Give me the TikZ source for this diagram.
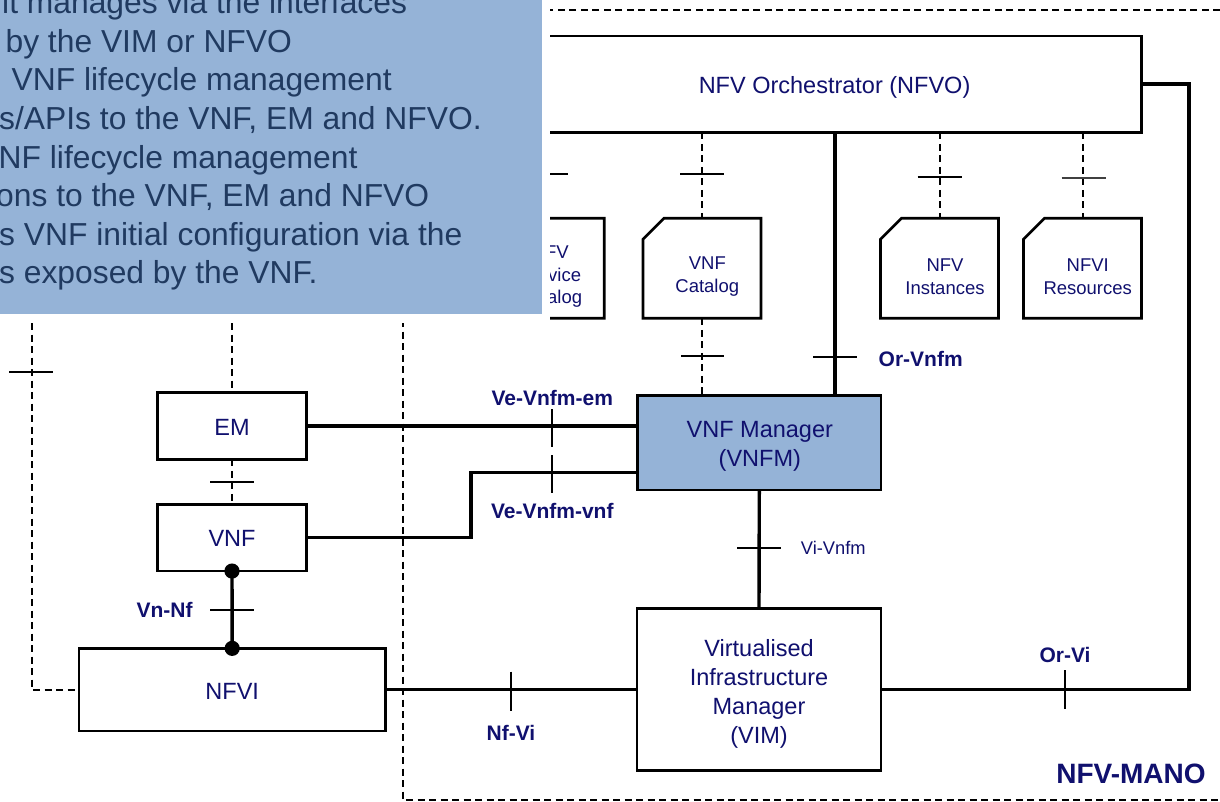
\documentclass[tikz,border=0pt]{standalone}
\usepackage{fontspec}
\setmainfont{Liberation Sans}
\definecolor{navy}{HTML}{10106E}
\definecolor{callblue}{HTML}{95B3D7}
\definecolor{calltext}{HTML}{203A60}
\tikzset{
  blk/.style={draw, line width=2.7pt, fill=white, inner sep=0pt, outer sep=0pt},
  blktext/.style={text=navy, align=center, inner sep=0pt, font=\fontsize{23.5}{29.2}\selectfont},
  catbox/.style={inner sep=0pt, outer sep=0pt, minimum width=118pt, minimum height=100pt},
  catshape/.style={line width=2.7pt, line join=miter},
  cattext/.style={text=navy, align=center, font=\fontsize{18.5}{22.7}\selectfont, inner sep=0pt},
  conn/.style={line width=3.4pt, line join=miter},
  dashc/.style={line width=2pt, dash pattern=on 7pt off 4.5pt},
  tickm/.style={line width=2pt},
  ifl/.style={text=navy, font=\bfseries\fontsize{21}{25}\selectfont, inner sep=0pt},
  calltxt/.style={text=calltext, font=\fontsize{31.8}{38}\selectfont, anchor=base west, inner sep=0pt},
}
\begin{document}
\begin{tikzpicture}[x=1pt,y=-1pt]
\useasboundingbox (0,0) rectangle (1220,802);

% NFV-MANO boundary
\coordinate (mtr) at (1220,10);
\coordinate (mbr) at (1220,800);
\draw[dashc] (mtr) -- (403,10) -- (403,800) -- (mbr);

% main blocks
\node[blk, minimum width=614.7pt, minimum height=96.3pt] (nfvo) at (834.35,84.15) {};
\node[blk, fill=callblue, minimum width=243.3pt, minimum height=94.3pt] (vnfm) at (759.3,442.9) {};
\node[blk, minimum width=244pt, minimum height=162.4pt] (vim) at (759,689.5) {};
\node[blk, minimum width=148.6pt, minimum height=67pt] (em) at (232,425.8) {};
\node[blk, minimum width=148.6pt, minimum height=66.7pt] (vnf) at (232,537.7) {};
\node[blk, minimum width=306.3pt, minimum height=82.7pt] (nfvi) at (232.2,689.7) {};

\node[blktext] (nfvot) at ([shift={(0.2,3)}]nfvo.center) {NFV Orchestrator (NFVO)};
\node[blktext] (vnfmt) at ([shift={(0.5,3.6)}]vnfm.center) {VNF Manager\\(VNFM)};
\node[blktext] (vimt) at ([shift={(0,4.5)}]vim.center) {Virtualised\\Infrastructure\\Manager\\(VIM)};
\node[blktext] (emt) at ([shift={(0,1.5)}]em.center) {EM};
\node[blktext] (vnft) at ([shift={(0,1)}]vnf.center) {VNF};
\node[blktext] (nfvit) at ([shift={(0,1.5)}]nfvi.center) {NFVI};

% catalogs / repositories
\node[catbox] (sc) at (545.3,268.3) {};
\node[catbox] (vnfc) at (702,268.3) {};
\node[catbox] (nfvin) at (939.5,268.3) {};
\node[catbox] (nfvir) at (1082.5,268.3) {};
\foreach \c in {sc,vnfc,nfvin,nfvir}{
  \draw[catshape] (\c.north west) ++(0,21) -- ++(21,-21) -- (\c.north east) -- (\c.south east) -- (\c.south west) -- cycle;
}
\node[cattext] (sct) at ([shift={(5,8.4)}]sc.center) {NFV\\Service\\Catalog};
\node[cattext] (vnfct) at ([shift={(5.3,8.4)}]vnfc.center) {VNF\\Catalog};
\node[cattext] (nfvint) at ([shift={(5.5,8.4)}]nfvin.center) {NFV\\Instances};
\node[cattext] (nfvirt) at ([shift={(5.2,8.4)}]nfvir.center) {NFVI\\Resources};

% dashed reference points
\draw[dashc] (nfvo.south -| sc.north) -- (sc.north);
\draw[dashc] (nfvo.south -| vnfc.north) -- (vnfc.north);
\draw[dashc] (nfvo.south -| nfvin.north) -- (nfvin.north);
\draw[dashc] (nfvo.south -| nfvir.north) -- (nfvir.north);
\draw[dashc] (vnfc.south) -- (vnfc.south |- vnfm.north);
\coordinate (emup) at (232,300);
\draw[dashc] (emup) -- (em.north);
\draw[dashc] (em.south) -- (vnf.north);
\coordinate (lefttop) at (31.7,300);
\draw[dashc] (lefttop) |- (nfvi.west);

% solid reference points
\draw[conn] (em.east) -- (vnfm.west |- em.east);
\coordinate (vbend) at (471,472.3);
\draw[conn] (vnf.east) -| (vbend) -- (vnfm.west |- vbend);
\draw[conn] (vnf.south) -- (nfvi.north);
\fill (vnf.south) circle (7.6);
\fill (nfvi.north) circle (7.6);
\draw[conn] (nfvi.east) -- (vim.west |- nfvi.east);
\coordinate (orvx) at (835,0);
\draw[conn] (orvx |- nfvo.south) -- (orvx |- vnfm.north);
\draw[conn] (vnfm.south) -- (vim.north);
\coordinate (rside) at (1189,0);
\draw[conn] (vim.east) -| (rside |- nfvo.east) -- (nfvo.east);

% ticks
\draw[tickm] (9.3,371.7) -- (53.3,371.7);
\draw[tickm] (210,482) -- (254,482);
\draw[tickm] (210,610.3) -- (254,610.3);
\draw[tickm] (552.3,409) -- (552.3,447);
\draw[tickm] (552.3,455) -- (552.3,493);
\draw[tickm] (511,671.5) -- (511,711);
\draw[tickm] (737,548.3) -- (781,548.3);
\draw[tickm] (813,356.7) -- (857,356.7);
\draw[tickm] (681,356) -- (724.3,356);
\draw[tickm] (523,174.3) -- (567.7,174.3);
\draw[tickm] (680,174.3) -- (723.7,174.3);
\draw[tickm] (917.7,177) -- (961.7,177);
\draw[tickm, black!75] (1061.7,178.3) -- (1105.7,178.3);
\draw[tickm] (1065,670) -- (1065,709);

% interface labels
\node[ifl] (lvem) at (552.3,397.7) {Ve-Vnfm-em};
\node[ifl] (lvvnf) at (552.3,510.7) {Ve-Vnfm-vnf};
\node[ifl] (lvnnf) at (164.5,610.3) {Vn-Nf};
\node[ifl] (lnfvi) at (511,733.3) {Nf-Vi};
\node[ifl] (lorvnfm) at (920.7,359) {Or-Vnfm};
\node[ifl] (lorvi) at (1065,655) {Or-Vi};
\node[text=navy, font=\fontsize{18.3}{22}\selectfont, inner sep=0pt] (lvivnfm) at (833.3,548.3) {Vi-Vnfm};
\node[text=navy, font=\bfseries\fontsize{28}{32}\selectfont, inner sep=0pt] (lmano) at (1131,774) {NFV-MANO};

% callout overlay
\fill[white] (0,0) rectangle (550,323);
\node[fill=callblue, inner sep=0pt, outer sep=0pt, anchor=north west, minimum width=541.5pt, minimum height=313.5pt] (callout) at (0,0) {};
\node[calltxt] (c1) at (2,13.7) {it manages via the interfaces};
\node[calltxt] (c2) at (5.4,52.3) {by the VIM or NFVO};
\node[calltxt] (c3) at (11.5,90.9) {VNF lifecycle management};
\node[calltxt] (c4) at (-1,129.5) {s/APIs to the VNF, EM and NFVO.};
\node[calltxt] (c5) at (-1.5,168.1) {NF lifecycle management};
\node[calltxt] (c6) at (-4,206.7) {ons to the VNF, EM and NFVO};
\node[calltxt] (c7) at (-1,245.3) {s VNF initial configuration via the};
\node[calltxt] (c8) at (-1,283.9) {s exposed by the VNF.};
\end{tikzpicture}
\end{document}
